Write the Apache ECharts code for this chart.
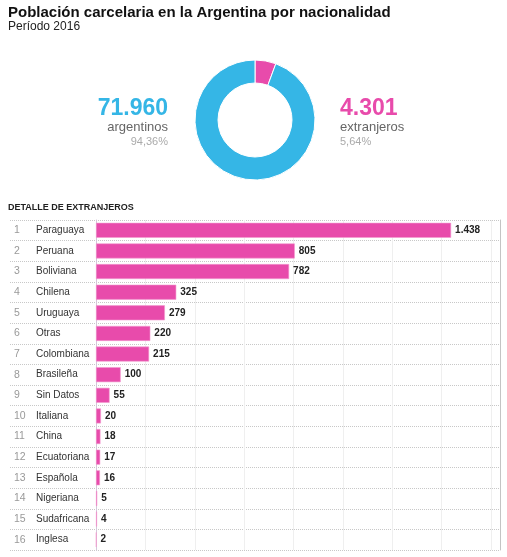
<!DOCTYPE html>
<html>
<head>
    <meta charset="utf-8">
    <title>Población carcelaria</title>
    <script type="text/javascript" src="https://cdn.jsdelivr.net/npm/echarts@6/dist/echarts.min.js"></script>
    <style>
        html, body { margin: 0; padding: 0; background: #fff; }
        #main { width: 507px; height: 557px; }
    </style>
</head>

<body>
    <div id="main"></div>
    <script type="text/javascript">
    // totales
    var grupos = ['argentinos', 'extranjeros'];
    var totales = [71960, 4301];

    // detalle de extranjeros
    var nacionalidades = ['Paraguaya', 'Peruana', 'Boliviana', 'Chilena', 'Uruguaya', 'Otras',
        'Colombiana', 'Brasileña', 'Sin Datos', 'Italiana', 'China', 'Ecuatoriana',
        'Española', 'Nigeriana', 'Sudafricana', 'Inglesa'];
    var presos = [1438, 805, 782, 325, 279, 220, 215, 100, 55, 20, 18, 17, 16, 5, 4, 2];

    var azul = '#35b6e6';
    var rosa = '#e84bab';
    var fuente = 'Liberation Sans, Arial, sans-serif';

    function miles(v) {
        return String(v).replace(/\B(?=(\d{3})+(?!\d))/g, '.');
    }
    var suma = totales[0] + totales[1];
    function pct(v) {
        return (v / suma * 100).toFixed(2).replace('.', ',') + '%';
    }

    var myChart = echarts.init(document.getElementById('main'));

    // titles carry a default padding of 5px, offsets below account for it
    var option = {
        animation: false,
        textStyle: { fontFamily: fuente },
        title: [{
            text: 'Población carcelaria en la Argentina por nacionalidad',
            left: 3, top: 0,
            textStyle: { fontSize: 15, fontWeight: 'bold', color: '#111' }
        }, {
            text: 'Período 2016',
            left: 3, top: 16,
            textStyle: { fontSize: 12, fontWeight: 'normal', color: '#222' }
        }, {
            text: miles(totales[0]),
            right: 334, top: 92,
            textStyle: { fontSize: 23, fontWeight: 'bold', color: azul }
        }, {
            text: grupos[0],
            right: 334, top: 116,
            textStyle: { fontSize: 13, fontWeight: 'normal', color: '#666' }
        }, {
            text: pct(totales[0]),
            right: 334, top: 131,
            textStyle: { fontSize: 11, fontWeight: 'normal', color: '#aaa' }
        }, {
            text: miles(totales[1]),
            left: 335, top: 92,
            textStyle: { fontSize: 23, fontWeight: 'bold', color: rosa }
        }, {
            text: grupos[1],
            left: 335, top: 116,
            textStyle: { fontSize: 13, fontWeight: 'normal', color: '#666' }
        }, {
            text: pct(totales[1]),
            left: 335, top: 131,
            textStyle: { fontSize: 11, fontWeight: 'normal', color: '#aaa' }
        }, {
            text: 'DETALLE DE EXTRANJEROS',
            left: 3, top: 198,
            textStyle: { fontSize: 9, fontWeight: 'bold', color: '#222' }
        }],
        grid: [{
            left: 96, right: 7, top: 220, bottom: 7
        }, {
            left: 10, width: 86, top: 220, bottom: 7
        }],
        xAxis: [{
            type: 'value',
            gridIndex: 0,
            min: 0,
            max: 1636,
            interval: 200,
            axisLabel: { show: false },
            axisTick: { show: false },
            axisLine: { show: false },
            splitLine: { show: true, lineStyle: { color: '#efefef', width: 1 } }
        }, {
            type: 'value',
            gridIndex: 1,
            show: false
        }],
        yAxis: [{
            type: 'category',
            gridIndex: 0,
            inverse: true,
            data: nacionalidades,
            axisTick: { show: false },
            axisLine: { show: true, lineStyle: { color: '#d4c6d8' } },
            splitLine: { show: true, lineStyle: { color: '#c8c8c8', type: 'dotted' } },
            axisLabel: {
                align: 'left',
                margin: 82,
                formatter: function (val, idx) {
                    return '{n|' + (idx + 1) + '}{c|' + val + '}';
                },
                rich: {
                    n: { width: 22, color: '#999', fontSize: 10.5, fontFamily: fuente },
                    c: { color: '#333', fontSize: 10, fontFamily: fuente }
                }
            }
        }, {
            type: 'category',
            gridIndex: 0,
            position: 'right',
            inverse: true,
            data: nacionalidades,
            axisTick: { show: false },
            axisLabel: { show: false },
            axisLine: { show: true, lineStyle: { color: '#c4c4c4' } },
            splitLine: { show: false }
        }, {
            type: 'category',
            gridIndex: 1,
            inverse: true,
            data: nacionalidades,
            axisTick: { show: false },
            axisLabel: { show: false },
            axisLine: { show: false },
            splitLine: { show: true, lineStyle: { color: '#c8c8c8', type: 'dotted' } }
        }],
        series: [{
            type: 'pie',
            center: [255, 120],
            radius: [37, 60],
            startAngle: 90,
            clockwise: true,
            silent: true,
            label: { show: false },
            labelLine: { show: false },
            itemStyle: { borderColor: '#fff', borderWidth: 1 },
            data: [
                { name: grupos[1], value: totales[1], itemStyle: { color: rosa } },
                { name: grupos[0], value: totales[0], itemStyle: { color: azul } }
            ]
        }, {
            type: 'bar',
            xAxisIndex: 0,
            yAxisIndex: 0,
            data: presos,
            barWidth: 15,
            itemStyle: { color: rosa, borderColor: '#f49bd0', borderWidth: 0.6 },
            label: {
                show: true,
                position: 'right',
                distance: 4,
                color: '#222',
                fontSize: 10,
                fontWeight: 'bold',
                fontFamily: fuente,
                formatter: function (p) { return miles(p.value); }
            }
        }]
    };
    myChart.setOption(option);
    </script>
</body>
</html>
